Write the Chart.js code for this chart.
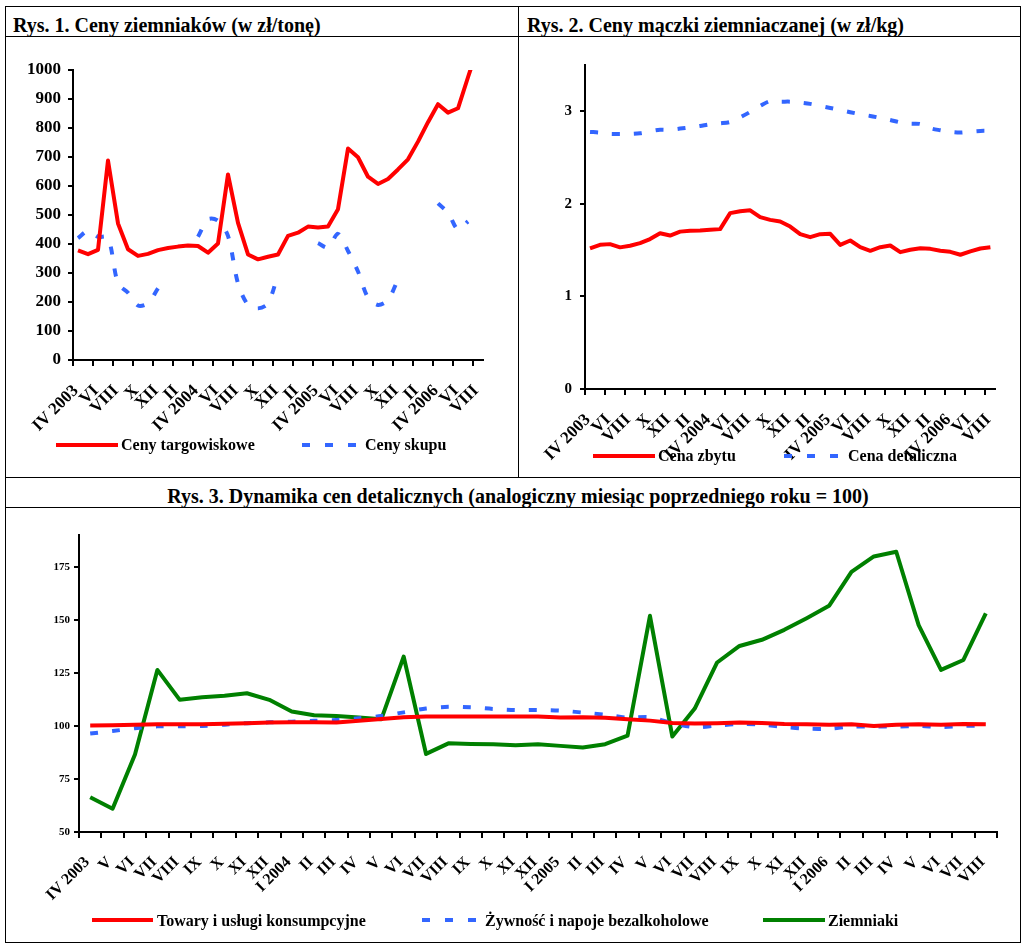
<!DOCTYPE html>
<html><head><meta charset="utf-8">
<script src="https://cdn.jsdelivr.net/npm/chart.js@4.4.1/dist/chart.umd.min.js"></script>
<style>
html,body{margin:0;padding:0;background:#fff;}
#wrap{position:relative;width:1021px;height:945px;overflow:hidden;background:#fff;font-family:'Liberation Serif','Times New Roman',serif;font-weight:bold;color:#000;}
.ln{position:absolute;background:#000;}
.t{position:absolute;white-space:nowrap;font-size:20px;line-height:20px;}
.lg{position:absolute;white-space:nowrap;font-size:16px;line-height:16px;}
.sw{position:absolute;height:4px;}
.solid-red{background:#ff0000;}
.solid-green{background:#008000;}
.dash-blue{background:repeating-linear-gradient(to right,#3366ff 0 8px,transparent 8px 23px);}
canvas{position:absolute;}
</style></head><body><div id="wrap">
<div class="ln" style="left:5px;top:6px;width:1016px;height:1px"></div>
<div class="ln" style="left:5px;top:6px;width:1px;height:937px"></div>
<div class="ln" style="left:1020px;top:6px;width:1px;height:937px"></div>
<div class="ln" style="left:5px;top:942px;width:1016px;height:1px"></div>
<div class="ln" style="left:5px;top:36px;width:1016px;height:1px"></div>
<div class="ln" style="left:518px;top:6px;width:1px;height:472px"></div>
<div class="ln" style="left:5px;top:477px;width:1016px;height:1px"></div>
<div class="ln" style="left:5px;top:507px;width:1016px;height:1px"></div>

<div class="t" style="left:13px;top:15px">Rys. 1. Ceny ziemniaków (w zł/tonę)</div>
<div class="t" style="left:527px;top:15px">Rys. 2. Ceny mączki ziemniaczanej (w zł/kg)</div>
<div class="t" style="left:0;width:1036px;text-align:center;top:486px">Rys. 3. Dynamika cen detalicznych (analogiczny miesiąc poprzedniego roku = 100)</div>

<canvas id="c1" width="512" height="441" style="left:6px;top:37px"></canvas>
<canvas id="c2" width="501" height="441" style="left:519px;top:37px"></canvas>
<canvas id="c3" width="1014" height="434" style="left:6px;top:508px"></canvas>

<div class="sw solid-red" style="left:56px;top:443px;width:62px"></div>
<div class="lg" style="left:121px;top:437px">Ceny targowiskowe</div>
<div class="sw dash-blue" style="left:302px;top:443px;width:54px"></div>
<div class="lg" style="left:365px;top:437px">Ceny skupu</div>

<div class="sw solid-red" style="left:593px;top:454px;width:62px"></div>
<div class="lg" style="left:658px;top:448px">Cena zbytu</div>
<div class="sw dash-blue" style="left:784px;top:454px;width:54px"></div>
<div class="lg" style="left:848px;top:448px">Cena detaliczna</div>

<div class="sw solid-red" style="left:92px;top:918px;width:61px"></div>
<div class="lg" style="left:157px;top:913px">Towary i usługi konsumpcyjne</div>
<div class="sw dash-blue" style="left:422px;top:918px;width:55px"></div>
<div class="lg" style="left:485px;top:913px">Żywność i napoje bezalkoholowe</div>
<div class="sw solid-green" style="left:763px;top:918px;width:62px"></div>
<div class="lg" style="left:828px;top:913px">Ziemniaki</div>
</div>
<script>
// Tick labels
const labels12 = ['IV 2003','','VI','','VIII','','X','','XII','','II','','IV 2004','','VI','','VIII','','X','','XII','','II','','IV 2005','','VI','','VIII','','X','','XII','','II','','IV 2006','','VI','','VIII'];
const labels3 = ['IV 2003','V','VI','VII','VIII','IX','X','XI','XII','I 2004','II','III','IV','V','VI','VII','VIII','IX','X','XI','XII','I 2005','II','III','IV','V','VI','VII','VIII','IX','X','XI','XII','I 2006','II','III','IV','V','VI','VII','VIII'];

// Rys. 1 (zł/tonę)
const cenyTargowiskowe = [378,365,380,688,471,382,359,366,379,386,391,395,393,370,402,640,473,364,347,356,364,428,439,460,457,460,520,729,699,632,607,624,657,692,753,820,882,853,868,975,1080];
const cenySkupu = [420,445,425,422,264,232,188,196,247,null,null,null,425,485,480,428,264,190,178,195,295,null,null,null,403,388,435,376,305,215,190,207,278,null,null,null,540,508,450,478,null];

// Rys. 2 (zł/kg)
const cenaZbytu = [1.52,1.557,1.565,1.53,1.547,1.576,1.62,1.683,1.658,1.70,1.709,1.712,1.72,1.727,1.90,1.92,1.93,1.856,1.827,1.81,1.755,1.673,1.64,1.673,1.676,1.557,1.604,1.532,1.493,1.532,1.55,1.478,1.504,1.52,1.514,1.493,1.482,1.45,1.486,1.518,1.532];
const cenaDetaliczna = [2.777,2.77,2.755,2.755,2.755,2.763,2.784,2.8,2.8,2.813,2.827,2.842,2.86,2.87,2.885,2.935,2.993,3.058,3.11,3.104,3.104,3.094,3.08,3.058,3.036,3.014,2.99,2.968,2.95,2.928,2.906,2.88,2.867,2.863,2.817,2.795,2.777,2.77,2.78,2.788,2.788];

// Rys. 3 (analogiczny miesiąc poprzedniego roku = 100)
const towaryUslugi = [100.2,100.3,100.6,100.8,100.8,100.8,101.0,101.3,101.6,101.7,101.7,101.6,102.4,103.3,104.1,104.4,104.5,104.5,104.4,104.4,104.4,104.0,104.1,103.9,103.1,102.5,101.4,101.1,101.3,101.6,101.4,100.9,100.8,100.6,100.8,100.0,100.6,100.8,100.6,100.9,100.8];
const zywnosc = [96.4,97.6,98.9,99.8,99.8,100.0,100.6,101.3,101.7,102.0,102.4,102.8,103.6,104.7,106.4,108.2,109.0,108.8,108.0,107.5,107.5,107.2,106.3,105.3,103.9,104.1,101.3,99.4,100.2,100.9,100.6,99.5,98.7,98.7,99.7,99.7,99.7,100.0,99.5,100.0,100.2];
const ziemniaki = [66.4,61.0,86.5,126.4,112.3,113.5,114.2,115.4,112.3,106.8,105.0,104.7,104.0,103.1,132.7,86.8,91.8,91.5,91.4,90.9,91.4,90.6,89.8,91.4,95.4,151.9,95.0,108.2,129.9,137.7,140.6,145.3,150.8,156.6,172.6,179.9,182.1,147.5,126.4,131.1,153.1];

const RED = '#ff0000', BLUE = '#3366ff', GREEN = '#008000';
const FONT = "'Liberation Serif','Times New Roman',serif";

function lineDs(data, color, dashed) {
  return {
    data, borderColor: color, backgroundColor: color, borderWidth: 4,
    pointRadius: 0, pointHoverRadius: 0, tension: dashed ? 0.3 : 0,
    borderDash: dashed ? [8, 14] : [], borderJoinStyle: 'round',
    fill: false, spanGaps: false, clip: 0
  };
}

function build(id, labels, datasets, o) {
  return new Chart(document.getElementById(id), {
    type: 'line',
    data: { labels, datasets },
    options: {
      responsive: false, animation: false, events: [],
      layout: { padding: { left: 0, top: o.padTop, right: o.padRight, bottom: 0 } },
      plugins: { legend: { display: false }, tooltip: { enabled: false }, title: { display: false } },
      scales: {
        x: {
          type: 'category', offset: true,
          grid: { offset: true, display: true, drawOnChartArea: false, drawTicks: true,
                  tickLength: o.xTick, lineWidth: 2, color: o.xTickColor },
          border: { display: true, color: '#000', width: 2 },
          ticks: { autoSkip: false, maxRotation: 45, minRotation: 45, padding: o.xPad,
                   labelOffset: o.xLabelOffset, color: '#000',
                   font: { family: FONT, size: o.xFont, weight: 'bold' } },
          afterFit: s => { s.height = o.xHeight; }
        },
        y: {
          type: 'linear', min: o.min, max: o.max,
          ticks: { stepSize: o.step, padding: o.yPad, color: '#000',
                   callback: v => String(v),
                   font: { family: FONT, size: o.yFont, weight: 'bold' } },
          grid: { drawOnChartArea: false, drawTicks: true, tickLength: 5, lineWidth: 2, color: '#000' },
          border: { display: true, color: '#000', width: 2 },
          afterBuildTicks: s => {
            s.ticks = s.ticks.filter(t => {
              const k = (t.value - o.min) / o.step;
              return Math.abs(k - Math.round(k)) < 1e-9;
            });
          },
          afterFit: s => { s.width = o.yWidth; }
        }
      }
    }
  });
}

const everyOther = ctx => (ctx.index !== undefined && ctx.index % 2 === 0) ? '#000' : 'rgba(0,0,0,0)';

build('c1', labels12, [lineDs(cenyTargowiskowe, RED, false), lineDs(cenySkupu, BLUE, true)], {
  padTop: 33, padRight: 35, yWidth: 67, xHeight: 118, min: 0, max: 1000, step: 100,
  yFont: 17, yPad: 7, xFont: 17, xPad: 15, xTick: 6, xLabelOffset: -2, xTickColor: everyOther
});
build('c2', labels12, [lineDs(cenaZbytu, RED, false), lineDs(cenaDetaliczna, BLUE, true)], {
  padTop: 28, padRight: 15, yWidth: 66, xHeight: 89, min: 0, max: 3.5, step: 1,
  yFont: 15, yPad: 8, xFont: 17, xPad: 15, xTick: 6, xLabelOffset: -2, xTickColor: everyOther
});
build('c3', labels3, [lineDs(towaryUslugi, RED, false), lineDs(zywnosc, BLUE, true), lineDs(ziemniaki, GREEN, false)], {
  padTop: 27, padRight: 23, yWidth: 73, xHeight: 110, min: 50, max: 190, step: 25,
  yFont: 11, yPad: 4, xFont: 16, xPad: 15, xTick: 6, xLabelOffset: -3, xTickColor: '#000'
});
</script>
</body></html>
